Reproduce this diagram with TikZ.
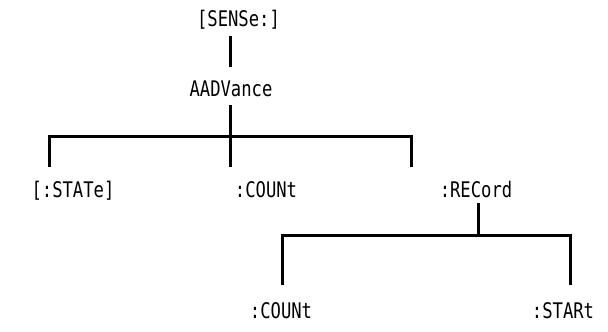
\documentclass[tikz,border=0pt]{standalone}
\usepackage{fontspec}
\newfontfamily\cmdfont[FakeStretch=0.8]{DejaVu Sans Mono}
\begin{document}
\begin{tikzpicture}[x=1pt,y=-1pt,
  lbl/.style={anchor=base,inner sep=0pt,font=\cmdfont\fontsize{21.5}{24}\selectfont},
  treeline/.style={line width=3pt,line join=miter}]
\useasboundingbox (0,0) rectangle (608,332);
% nodes
\node[lbl] (sense) at (238.5,27) {[SENSe:]};
\node[lbl] (aadv) at (231,96) {AADVance};
\node[lbl] (state) at (73,197) {[:STATe]};
\node[lbl] (count) at (266,197) {:COUNt};
\node[lbl] (record) at (476,197) {:RECord};
\node[lbl] (rcount) at (281,318) {:COUNt};
\node[lbl] (rstart) at (563,318) {:STARt};
% junction coordinates
\coordinate (s1) at (230,36);
\coordinate (s2) at (230,67);
\coordinate (a1) at (230,105);
\coordinate (a2) at (230,136);
\coordinate (bl) at (49,136);
\coordinate (br) at (411,136);
\coordinate (dl) at (49,167);
\coordinate (dm) at (230,167);
\coordinate (dr) at (411,167);
\coordinate (r1) at (478,203);
\coordinate (r2) at (478,235);
\coordinate (cl) at (282,235);
\coordinate (cr) at (570,235);
\coordinate (el) at (282,285);
\coordinate (er) at (570,285);
% connectors
\draw[treeline] (s1) -- (s2);
\draw[treeline] (a1) -- (a2);
\draw[treeline] (dl) -- (bl) -- (br) -- (dr);
\draw[treeline] (a2) -- (dm);
\draw[treeline] (r1) -- (r2);
\draw[treeline] (el) -- (cl) -- (cr) -- (er);
\end{tikzpicture}
\end{document}
